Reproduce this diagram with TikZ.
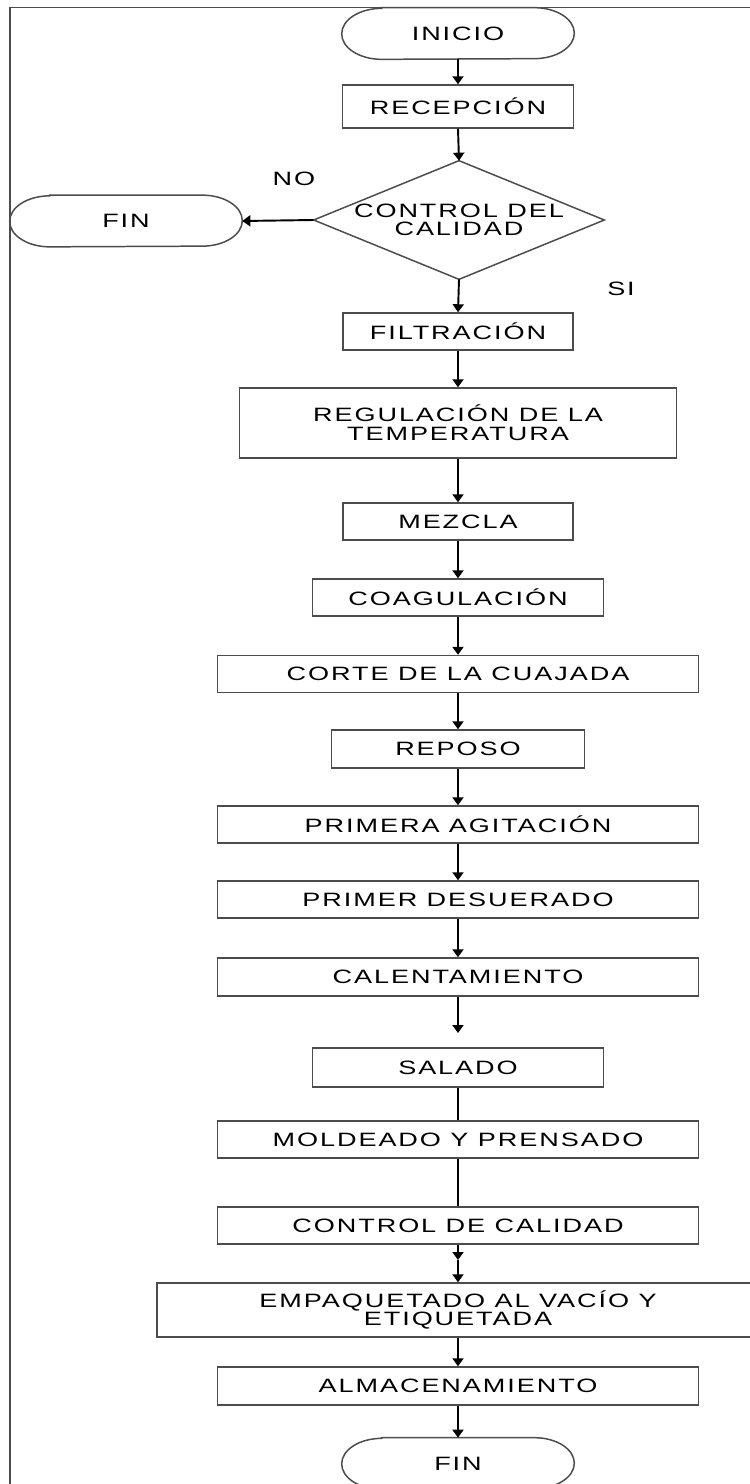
\documentclass[tikz,border=0pt]{standalone}
\usepackage{fontspec}
\newfontfamily\flowfont[FakeStretch=1.4,LetterSpace=10]{Liberation Sans}
\usetikzlibrary{arrows.meta}

\begin{document}
\begin{tikzpicture}[x=0.02cm, y=-0.02cm,
    every node/.style={font={\flowfont\fontsize{11}{10.6}\selectfont}, align=center, inner sep=0pt},
    outline/.style={draw=black!70, line width=0.85pt},
    box/.style={outline, minimum height=0.74cm},
    terminal/.style={minimum width=4.64cm, minimum height=1.02cm},
    flow/.style={line width=1.1pt, -{Triangle[length=1.6mm,width=2.2mm]}},
    link/.style={line width=1.1pt}
]

    \useasboundingbox (0,0) rectangle (750,1484);
    \clip (0,0) rectangle (750,1484);

    % frame
    \draw[outline] (10,7.5) rectangle (780,1520);

    % start and decision
    \node[terminal] (inicio) at (458,33.5) {INICIO};
    \node[box, minimum width=4.62cm, minimum height=0.86cm] (recepcion) at (458,106.5) {RECEPCIÓN};
    \node[minimum width=5.8cm, minimum height=2.36cm] (control) at (459,220) {CONTROL DEL\\CALIDAD};
    \draw[outline] (control.north) -- (control.east) -- (control.south) -- (control.west) -- cycle;
    \node[terminal] (finno) at (126,221) {FIN};
    \node (no) at (294,179) {NO};
    \node (si) at (621,289) {SI};

    % process steps
    \node[box, minimum width=4.6cm] (filtracion) at (458,331.5) {FILTRACIÓN};
    \node[box, minimum width=8.74cm, minimum height=1.4cm] (regulacion) at (458,423) {REGULACIÓN DE LA\\TEMPERATURA};
    \node[box, minimum width=4.6cm] (mezcla) at (458,521.5) {MEZCLA};
    \node[box, minimum width=5.82cm] (coagulacion) at (458,597.5) {COAGULACIÓN};
    \node[box, minimum width=9.62cm] (corte) at (458,674) {CORTE DE LA CUAJADA};
    \node[box, minimum width=5.06cm, minimum height=0.76cm] (reposo) at (458,749) {REPOSO};
    \node[box, minimum width=9.62cm] (agitacion) at (458,824.5) {PRIMERA AGITACIÓN};
    \node[box, minimum width=9.62cm] (desuerado) at (458,899.5) {PRIMER DESUERADO};
    \node[box, minimum width=9.62cm, minimum height=0.76cm] (calentamiento) at (458,977) {CALENTAMIENTO};
    \node[box, minimum width=5.82cm, minimum height=0.78cm] (salado) at (458,1067.5) {SALADO};
    \node[box, minimum width=9.62cm] (moldeado) at (458,1139.5) {MOLDEADO Y PRENSADO};
    \node[box, minimum width=9.62cm] (calidad) at (458,1225.5) {CONTROL DE CALIDAD};
    \node[box, minimum width=12.04cm, minimum height=1.08cm] (empaquetado) at (458,1310) {EMPAQUETADO AL VACÍO Y\\ETIQUETADA};
    \node[box, minimum width=9.62cm, minimum height=0.76cm] (almacenamiento) at (458,1386) {ALMACENAMIENTO};
    \node[terminal] (fin) at (458,1463.5) {FIN};

    % terminal outlines
    \foreach \t in {inicio,finno,fin}
        \draw[outline] ([xshift=0.8cm]\t.north west) -- ([xshift=-0.8cm]\t.north east)
            arc[start angle=90, end angle=-90, x radius=0.8cm, y radius=0.51cm]
            -- ([xshift=0.8cm]\t.south west)
            arc[start angle=270, end angle=90, x radius=0.8cm, y radius=0.51cm] -- cycle;

    \coordinate (salin) at (458,1033);
    \coordinate (mid) at (458,1260);

    % connectors
    \draw[flow] (inicio.south) -- (recepcion.north);
    \draw[flow] (recepcion.south) -- (control.north);
    \draw[flow] (control.west) -- (finno.east);
    \draw[flow] (control.south) -- (filtracion.north);
    \draw[flow] (filtracion.south) -- (regulacion.north);
    \draw[flow] (regulacion.south) -- (mezcla.north);
    \draw[flow] (mezcla.south) -- (coagulacion.north);
    \draw[flow] (coagulacion.south) -- (corte.north);
    \draw[flow] (corte.south) -- (reposo.north);
    \draw[flow] (reposo.south) -- (agitacion.north);
    \draw[flow] (agitacion.south) -- (desuerado.north);
    \draw[flow] (desuerado.south) -- (calentamiento.north);
    \draw[flow] (calentamiento.south) -- (salin);
    \draw[link] (salado.south) -- (moldeado.north);
    \draw[link] (moldeado.south) -- (calidad.north);
    \draw[flow] (calidad.south) -- (mid);
    \draw[flow] (mid) -- (empaquetado.north);
    \draw[flow] (empaquetado.south) -- (almacenamiento.north);
    \draw[flow] (almacenamiento.south) -- (fin.north);

\end{tikzpicture}
\end{document}
